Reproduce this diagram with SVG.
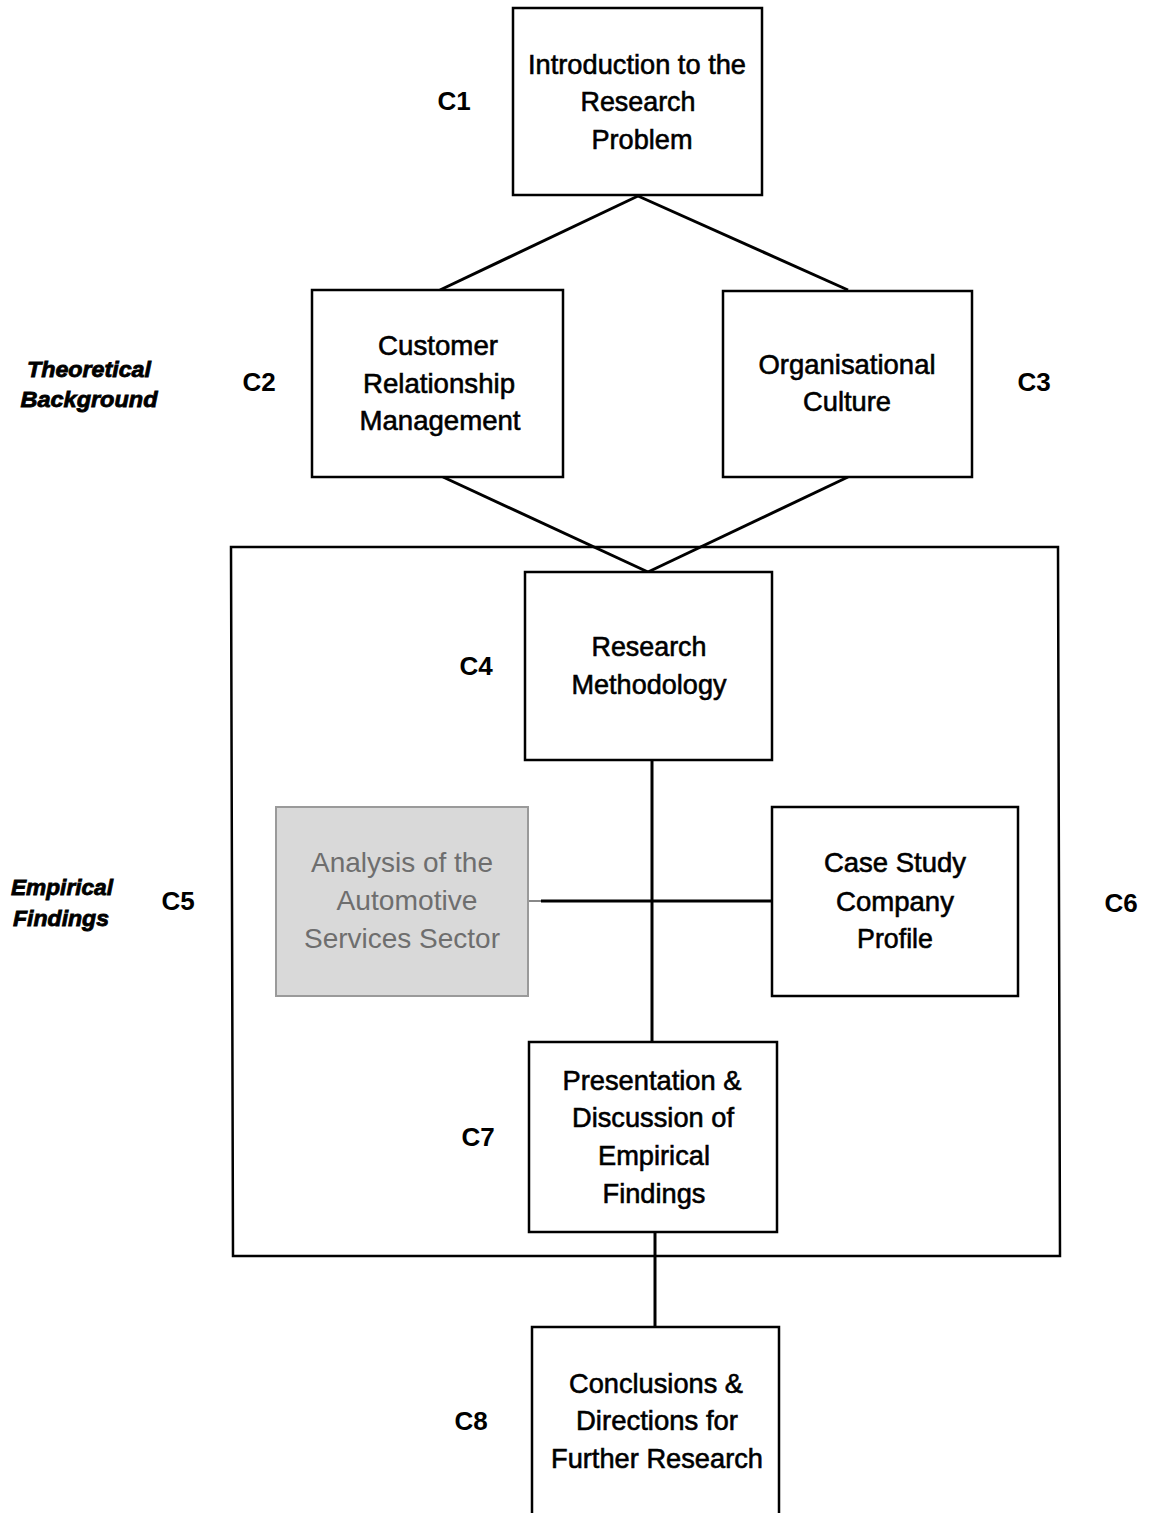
<svg xmlns="http://www.w3.org/2000/svg" width="1149" height="1513" viewBox="0 0 1149 1513">
<style>
.box{fill:#fff;stroke:#000;stroke-width:2.5}
.gbox{fill:#d9d9d9;stroke:#9a9a9a;stroke-width:2}
.t{font-family:"Liberation Sans",Arial,sans-serif;font-size:28px;text-anchor:middle;fill:#000;stroke:#000;stroke-width:0.6}
.g{fill:#6e6e6e;stroke:none}
.lab{font-family:"Liberation Sans",Arial,sans-serif;font-size:26px;font-weight:bold;text-anchor:middle;fill:#000}
.sec{font-family:"Liberation Sans",Arial,sans-serif;font-size:22px;font-weight:bold;font-style:italic;text-anchor:middle;fill:#000;stroke:#000;stroke-width:0.8}
.c{stroke:#000;stroke-width:3;fill:none}
</style>
<rect width="1149" height="1513" fill="#fff"/>
<g id="frame"><path d="M231 547 L1058 547 L1060 1256 L233 1256 Z" fill="none" stroke="#000" stroke-width="2.5"/></g>
<g id="connectors">
<line class="c" x1="638" y1="196" x2="440" y2="290"/>
<line class="c" x1="638" y1="196" x2="848" y2="290"/>
<line class="c" x1="443" y1="477" x2="648" y2="572"/>
<line class="c" x1="848" y1="477" x2="648" y2="572"/>
<line class="c" x1="652" y1="760" x2="652" y2="1042"/>
<line x1="528" y1="901" x2="541" y2="901" stroke="#888" stroke-width="2"/>
<line class="c" x1="541" y1="901" x2="772" y2="901"/>
<line class="c" x1="655" y1="1232" x2="655" y2="1327"/>
</g>
<g id="c1">
<rect class="box" x="513" y="8" width="249" height="187"/>
<text class="t" x="637" y="74" textLength="218" lengthAdjust="spacingAndGlyphs">Introduction to the</text>
<text class="t" x="638" y="111" textLength="115" lengthAdjust="spacingAndGlyphs">Research</text>
<text class="t" x="642" y="149" textLength="101" lengthAdjust="spacingAndGlyphs">Problem</text>
</g>
<g id="c2">
<rect class="box" x="312" y="290" width="251" height="187"/>
<text class="t" x="438" y="355" textLength="120" lengthAdjust="spacingAndGlyphs">Customer</text>
<text class="t" x="439" y="393" textLength="152" lengthAdjust="spacingAndGlyphs">Relationship</text>
<text class="t" x="440" y="430" textLength="161" lengthAdjust="spacingAndGlyphs">Management</text>
</g>
<g id="c3">
<rect class="box" x="723" y="291" width="249" height="186"/>
<text class="t" x="847" y="374" textLength="177" lengthAdjust="spacingAndGlyphs">Organisational</text>
<text class="t" x="847" y="411" textLength="88" lengthAdjust="spacingAndGlyphs">Culture</text>
</g>
<g id="c4">
<rect class="box" x="525" y="572" width="247" height="188"/>
<text class="t" x="649" y="656" textLength="115" lengthAdjust="spacingAndGlyphs">Research</text>
<text class="t" x="649" y="694" textLength="155" lengthAdjust="spacingAndGlyphs">Methodology</text>
</g>
<g id="c5">
<rect class="gbox" x="276" y="807" width="252" height="189"/>
<text class="t g" x="402" y="872" textLength="182" lengthAdjust="spacingAndGlyphs">Analysis of the</text>
<text class="t g" x="407" y="910" textLength="141" lengthAdjust="spacingAndGlyphs">Automotive</text>
<text class="t g" x="402" y="948" textLength="196" lengthAdjust="spacingAndGlyphs">Services Sector</text>
</g>
<g id="c6">
<rect class="box" x="772" y="807" width="246" height="189"/>
<text class="t" x="895" y="872" textLength="142" lengthAdjust="spacingAndGlyphs">Case Study</text>
<text class="t" x="895" y="911" textLength="118" lengthAdjust="spacingAndGlyphs">Company</text>
<text class="t" x="895" y="948" textLength="76" lengthAdjust="spacingAndGlyphs">Profile</text>
</g>
<g id="c7">
<rect class="box" x="529" y="1042" width="248" height="190"/>
<text class="t" x="652" y="1090" textLength="179" lengthAdjust="spacingAndGlyphs">Presentation &amp;</text>
<text class="t" x="653" y="1127" textLength="162" lengthAdjust="spacingAndGlyphs">Discussion of</text>
<text class="t" x="654" y="1165" textLength="112" lengthAdjust="spacingAndGlyphs">Empirical</text>
<text class="t" x="654" y="1203" textLength="103" lengthAdjust="spacingAndGlyphs">Findings</text>
</g>
<g id="c8">
<path class="box" d="M532 1513 L532 1327 L779 1327 L779 1513"/>
<text class="t" x="656" y="1393" textLength="174" lengthAdjust="spacingAndGlyphs">Conclusions &amp;</text>
<text class="t" x="657" y="1430" textLength="162" lengthAdjust="spacingAndGlyphs">Directions for</text>
<text class="t" x="657" y="1468" textLength="212" lengthAdjust="spacingAndGlyphs">Further Research</text>
</g>
<g id="labels">
<text class="lab" x="454" y="110">C1</text>
<text class="lab" x="259" y="391">C2</text>
<text class="lab" x="1034" y="391">C3</text>
<text class="lab" x="476" y="675">C4</text>
<text class="lab" x="178" y="910">C5</text>
<text class="lab" x="1121" y="912">C6</text>
<text class="lab" x="478" y="1146">C7</text>
<text class="lab" x="471" y="1430">C8</text>
<text class="sec" x="89" y="377" textLength="124" lengthAdjust="spacingAndGlyphs">Theoretical</text>
<text class="sec" x="89" y="407" textLength="137" lengthAdjust="spacingAndGlyphs">Background</text>
<text class="sec" x="62" y="895" textLength="102" lengthAdjust="spacingAndGlyphs">Empirical</text>
<text class="sec" x="61" y="926" textLength="96" lengthAdjust="spacingAndGlyphs">Findings</text>
</g>
</svg>
